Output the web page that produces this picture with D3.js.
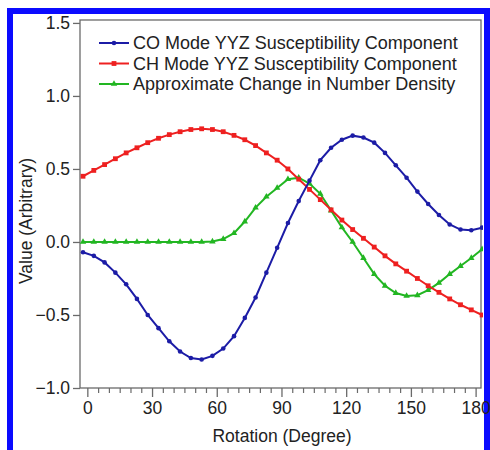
<!DOCTYPE html>
<html><head><meta charset="utf-8">
<script src="https://cdn.jsdelivr.net/npm/d3@7"></script>
<style>body{margin:0;background:#fff}svg{display:block}text{font-family:"Liberation Sans",Arial,sans-serif;fill:#222}</style>
</head><body><svg id="c" width="490" height="450"></svg>
<script>
const rotation = [-2,3,8,13,18,23,28,33,38,43,48,53,58,63,68,73,78,83,88,93,98,103,108,113,118,123,128,133,138,143,148,153,158,163,168,173,178,183];
const coMode = [-0.07,-0.095,-0.14,-0.21,-0.29,-0.39,-0.50,-0.59,-0.68,-0.75,-0.795,-0.805,-0.78,-0.73,-0.645,-0.52,-0.38,-0.21,-0.04,0.13,0.28,0.42,0.56,0.645,0.70,0.728,0.715,0.68,0.61,0.525,0.44,0.345,0.26,0.185,0.12,0.085,0.08,0.098];
const chMode = [0.45,0.49,0.53,0.57,0.61,0.645,0.68,0.71,0.735,0.755,0.77,0.775,0.77,0.755,0.73,0.70,0.66,0.61,0.56,0.50,0.43,0.36,0.29,0.22,0.15,0.085,0.025,-0.035,-0.095,-0.15,-0.20,-0.25,-0.30,-0.345,-0.39,-0.43,-0.465,-0.50];
const density = [0,0,0,0,0,0,0,0,0,0,0,0,0.003,0.02,0.06,0.14,0.235,0.31,0.37,0.43,0.44,0.40,0.33,0.215,0.10,0.0,-0.11,-0.22,-0.30,-0.35,-0.37,-0.365,-0.33,-0.28,-0.22,-0.165,-0.11,-0.05];
const seriesNames = ["CO Mode YYZ Susceptibility Component","CH Mode YYZ Susceptibility Component","Approximate Change in Number Density"];
const seriesColors = ["#1c1ca6","#ee2020","#22b622"];
const xTicks = [0,30,60,90,120,150,180];
const yTicks = [-1.0,-0.5,0.0,0.5,1.0,1.5];

const svg = d3.select("#c");
const L=80,R=481,T=20,B=388;
const FS = 17.5;
const x = d3.scaleLinear().domain([-3.4,182.5]).range([L,R]);
const y = d3.scaleLinear().domain([-1.0,1.52]).range([B,T]);

// blue outer border
svg.append("rect").attr("x",10).attr("y",11).attr("width",477).attr("height",520)
  .attr("fill","none").attr("stroke","#0b0bff").attr("stroke-width",6);

// frame
svg.append("rect").attr("x",L).attr("y",T).attr("width",R-L).attr("height",B-T)
  .attr("fill","none").attr("stroke","#6a6a6a").attr("stroke-width",1.3);

const axisColor="#6a6a6a";
// y axis
const gy = svg.append("g").attr("transform",`translate(${L},0)`)
  .call(d3.axisLeft(y).tickValues(yTicks).tickFormat(d3.format(".1f")).tickSize(7).tickPadding(3));
gy.select(".domain").remove();
gy.selectAll("line").attr("stroke",axisColor).attr("stroke-width",1.3);
gy.selectAll("text").attr("font-size",FS).attr("fill","#222").style("font-family","Liberation Sans, Arial, sans-serif");

// x axis minor
const minor = d3.range(0,181,5).filter(v=>v%30!==0);
const gxm = svg.append("g").attr("transform",`translate(0,${B})`)
  .call(d3.axisBottom(x).tickValues(minor).tickSize(5).tickFormat(""));
gxm.select(".domain").remove();
gxm.selectAll("line").attr("stroke",axisColor).attr("stroke-width",1.2);
const gx = svg.append("g").attr("transform",`translate(0,${B})`)
  .call(d3.axisBottom(x).tickValues(xTicks).tickSize(9).tickPadding(5).tickFormat(d3.format("d")));
gx.select(".domain").remove();
gx.selectAll("line").attr("stroke",axisColor).attr("stroke-width",1.3);
gx.selectAll("text").attr("font-size",FS).attr("fill","#222").style("font-family","Liberation Sans, Arial, sans-serif");

// axis titles
svg.append("text").attr("x",282).attr("y",442).attr("text-anchor","middle").attr("font-size",FS).text("Rotation (Degree)");
svg.append("text").attr("transform","translate(32,221) rotate(-90)").attr("text-anchor","middle").attr("font-size",FS).text("Value (Arbitrary)");

const data = [coMode, chMode, density];
const line = d3.line().x((d,i)=>x(rotation[i])).y(d=>y(d));
svg.append("clipPath").attr("id","pc").append("rect").attr("x",L).attr("y",T).attr("width",R-L+2).attr("height",B-T);
const tri = d3.symbol().type(d3.symbolTriangle).size(18);

function marker(g, k, cx, cy){
  const c = seriesColors[k];
  if(k===0) g.append("circle").attr("cx",cx).attr("cy",cy).attr("r",2.3).attr("fill",c);
  else if(k===1) g.append("rect").attr("x",cx-2.4).attr("y",cy-2.4).attr("width",4.8).attr("height",4.8).attr("fill",c);
  else g.append("path").attr("d",tri).attr("transform",`translate(${cx},${cy})`).attr("fill",c);
}

[2,1,0].forEach(k=>{
  const g = svg.append("g").attr("clip-path","url(#pc)");
  g.append("path").datum(data[k]).attr("d",line).attr("fill","none").attr("stroke",seriesColors[k]).attr("stroke-width",2);
  data[k].forEach((v,i)=>marker(g,k,x(rotation[i]),y(v)));
});

// legend
seriesNames.forEach((name,k)=>{
  const ly = 43 + k*20.5;
  svg.append("line").attr("x1",99).attr("x2",129).attr("y1",ly).attr("y2",ly).attr("stroke",seriesColors[k]).attr("stroke-width",2);
  marker(svg,k,114,ly);
  svg.append("text").attr("x",133).attr("y",ly+6).attr("font-size",18).text(name);
});
</script></body></html>
